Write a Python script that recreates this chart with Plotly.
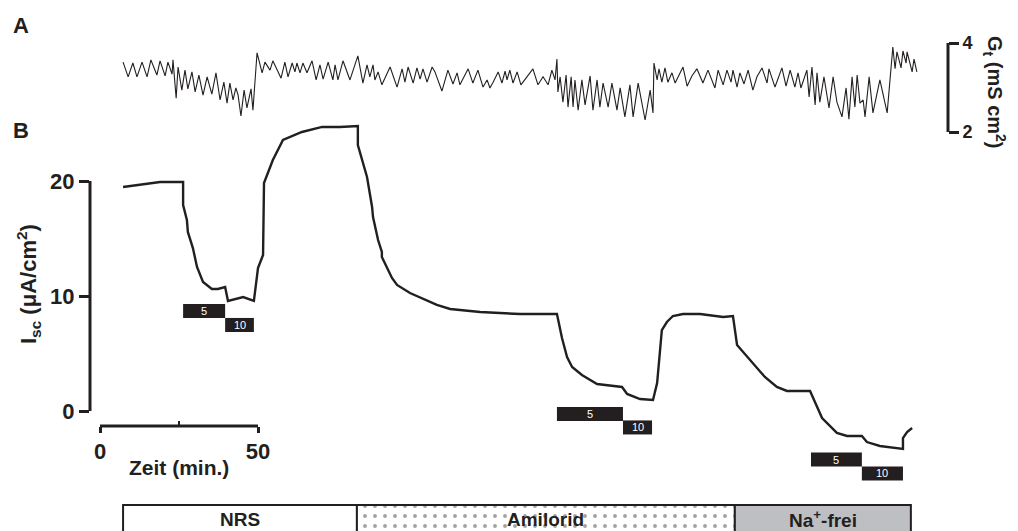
import plotly.graph_objects as go

# ---------------- data ----------------
# Panel A: transepithelial conductance Gt (mS cm^2) vs. time (min)
gt_time_1 = [7.3, 8.9, 10.4, 11.7, 13.3, 14.9, 16.1, 18.0, 19.0, 20.6, 21.5, 22.8, 23.1, 24.1, 24.7,
             25.9, 26.9, 27.8, 29.1, 30.1, 31.3, 32.6, 33.9, 35.4, 36.7, 38.0, 39.2, 40.2, 41.1, 42.1,
             43.0, 43.7, 44.6, 45.6, 46.5, 47.8, 48.4, 49.7]
gt_val_1 = [3.57, 3.24, 3.55, 3.24, 3.57, 3.24, 3.62, 3.28, 3.60, 3.26, 3.57, 3.30, 3.62, 2.76, 3.46,
            2.94, 3.39, 2.97, 3.35, 2.90, 3.28, 2.83, 3.24, 2.85, 3.33, 2.72, 3.12, 2.65, 3.10, 2.72,
            2.99, 2.83, 2.36, 2.94, 2.54, 2.97, 2.49, 3.78]
gt_time_2 = [51.3, 52.2, 53.8, 54.7, 57.3, 58.5, 59.5, 60.8, 61.7, 62.3, 63.3, 64.2, 65.5, 67.1, 68.4,
             69.6, 70.6, 72.2, 73.7, 74.4, 75.3, 76.9, 79.1, 81.6, 83.2, 84.5, 85.4, 86.4, 87.0, 88.0,
             89.2, 91.8, 94.0, 95.6, 96.5, 97.5, 99.1, 100.3, 101.3, 102.2, 103.5, 105.1, 106.0, 108.2,
             110.1, 111.7, 113.0, 113.9, 116.5, 118.0, 119.6, 121.2, 122.5, 123.4, 124.4, 126.0, 127.2,
             128.2, 128.8, 129.7, 130.7, 132.0, 133.2, 135.1, 137.0, 138.6, 140.2, 141.8, 143.0, 144.0,
             144.6]
gt_val_2 = [3.33, 3.57, 3.39, 3.60, 3.21, 3.57, 3.24, 3.55, 3.35, 3.55, 3.33, 3.55, 3.33, 3.60, 3.17,
            3.51, 3.19, 3.57, 3.17, 3.51, 3.17, 3.60, 3.17, 3.71, 3.10, 3.51, 3.24, 3.51, 3.17, 3.35,
            3.06, 3.46, 3.01, 3.42, 3.12, 3.46, 3.10, 3.44, 3.19, 3.42, 3.12, 3.46, 3.35, 2.92,
            3.39, 3.08, 3.33, 3.06, 3.42, 3.10, 3.39, 3.01, 3.17, 2.99, 3.12, 3.35, 3.10,
            3.37, 3.17, 3.39, 3.10, 3.35, 3.06, 3.24, 3.42, 3.06, 3.24, 3.06, 3.39, 3.17,
            3.64]
gt_time_3 = [144.9, 145.6, 146.5, 147.5, 148.1, 149.1, 149.7, 150.3, 151.3, 152.5, 153.5, 155.1, 156.0,
             157.3, 158.2, 159.2, 160.8, 162.0, 163.6, 164.6, 166.1, 167.7, 168.7, 170.3, 172.5, 174.1,
             175.0, 175.3]
gt_val_3 = [2.90, 3.24, 2.67, 3.28, 2.56, 3.24, 2.56, 3.17, 2.49, 3.17, 2.61, 3.26, 2.49,
            3.17, 2.56, 3.10, 2.56, 3.10, 2.49, 2.99, 2.34, 3.06, 2.34, 3.10, 2.27, 2.94,
            2.43, 3.55]
gt_time_4 = [176.3, 176.9, 177.8, 178.8, 179.7, 181.0, 182.0, 182.9, 184.5, 185.8, 187.3, 188.9, 190.8,
             192.4, 194.6, 195.6, 197.2, 198.4, 199.7, 200.3, 201.6, 202.5, 203.8, 205.1, 206.6, 207.9,
             209.5, 211.1, 211.7, 213.6, 215.8, 217.1, 218.4, 219.9, 220.9, 221.8, 223.7, 224.4, 225.3,
             226.3, 226.9, 227.8, 229.1, 230.7, 232.0, 233.2, 234.8, 236.1, 237.0, 238.0, 238.9, 239.6,
             240.5, 241.5, 242.1, 243.4, 244.6, 246.8, 249.1, 250.9, 251.6, 252.2, 253.5, 254.1, 255.1,
             255.4, 257.0, 257.6, 258.5]
gt_val_4 = [3.17, 3.42, 3.12, 3.44, 3.12, 3.33, 3.10, 3.24, 3.46, 3.03, 3.26, 3.42, 3.10,
            3.39, 2.99, 3.39, 3.06, 3.39, 3.12, 3.39, 3.01, 3.33, 3.08, 3.39, 2.94, 3.24,
            3.44, 3.10, 3.42, 3.01, 3.44, 3.03, 3.39, 3.01, 3.33, 2.99, 3.39, 2.79, 3.46,
            2.61, 3.33, 2.67, 3.24, 2.54, 3.24, 2.67, 2.34, 2.99, 2.29, 3.24, 2.56, 3.28,
            2.65, 2.72, 2.34, 3.24, 2.43, 3.17, 2.43, 3.91, 3.42, 3.80, 3.44, 3.82, 3.55,
            3.80, 3.35, 3.64, 3.35]

# Panel B: short-circuit current Isc (uA/cm^2) vs. time (min)
isc_time = [7.3, 19.0, 26.3, 26.3, 27.5, 27.8, 29.4, 30.7, 32.6, 35.4, 37.3, 39.6, 40.5, 45.3, 48.7,
            50.0, 51.6, 51.9, 54.7, 57.9, 63.9, 70.3, 75.9, 81.6, 81.6, 84.5, 86.1, 86.4, 88.0, 89.2,
            89.2, 92.4, 94.0, 98.1, 106.6, 110.8, 120.3, 132.9, 144.6, 146.2, 147.8, 149.4, 152.5,
            157.3, 165.2, 166.8, 170.9, 175.0, 176.3, 177.8, 179.4, 181.3, 184.5, 189.9, 197.2, 200.3,
            201.6, 205.7, 210.4, 214.2, 217.4, 224.7, 228.5, 233.2, 236.4, 241.1, 242.7, 246.8, 254.1,
            254.1, 255.4, 257.0]
isc_val = [19.48, 19.91, 19.91, 17.91, 16.61, 15.57, 14.17, 12.52, 11.22, 10.61, 10.61, 10.78, 9.57,
           9.91, 9.57, 12.43, 13.57, 19.83, 21.83, 23.57, 24.26, 24.70, 24.70, 24.78, 23.13, 20.35,
           17.74, 16.87, 14.87, 13.83, 13.39, 11.57, 10.96, 10.26, 9.22, 8.87, 8.61, 8.43, 8.43, 6.35,
           4.70, 3.83, 3.13, 2.35, 2.09, 1.48, 1.04, 0.96, 2.43, 7.04, 7.74, 8.26, 8.43, 8.43, 8.17,
           8.26, 5.74, 4.43, 2.96, 2.09, 1.74, 1.74, -0.61, -1.91, -2.17, -2.17, -2.70, -3.04, -3.30,
           -2.35, -1.83, -1.48]

# Stimulus markers (black boxes)
stim_labels = ["5", "10", "5", "10", "5", "10"]
stim_start = [26.3, 39.6, 144.6, 165.5, 225.0, 241.1]
stim_end = [39.6, 48.7, 165.5, 174.7, 241.1, 254.1]
stim_level = [8.70, 7.48, -0.26, -1.43, -4.22, -5.43]

# Solution periods (bottom bar)
sol_labels = ["NRS", "Amilorid", "Na<sup>+</sup>-frei"]
sol_start = [7.3, 81.3, 200.9]
sol_end = [81.3, 200.9, 256.6]

# Axis ticks
time_ticks = [0, 50]
time_minor = [25]
isc_ticks = [0, 10, 20]
gt_ticks = [2, 4]

# ---------------- layout geometry ----------------
W, H = 1018, 531
FONT = "Liberation Sans, Arial, sans-serif"
INK = "#231f20"


def px(x):
    return x / W


def py(y):
    return 1 - y / H


T_PX0, T_SCALE = 100, 3.16        # px of t=0, px per minute
I_PX0, I_SCALE = 411, 11.5        # px of Isc=0, px per unit
G_PX4, G_SCALE = 43, 44.5         # px of Gt=4, px per unit

x_range = [(90 - T_PX0) / T_SCALE, (W - T_PX0) / T_SCALE]
y_range = [(I_PX0 - H) / I_SCALE, I_PX0 / I_SCALE]
y2_range = [4 - (H - G_PX4) / G_SCALE, 4 + G_PX4 / G_SCALE]

fig = go.Figure()

gt_time = gt_time_1 + gt_time_2 + gt_time_3 + gt_time_4
gt_val = gt_val_1 + gt_val_2 + gt_val_3 + gt_val_4

fig.add_trace(go.Scatter(x=gt_time, y=gt_val, mode="lines", xaxis="x", yaxis="y2",
                         line=dict(color=INK, width=1.1), hoverinfo="skip", showlegend=False))
fig.add_trace(go.Scatter(x=isc_time, y=isc_val, mode="lines", xaxis="x", yaxis="y",
                         line=dict(color=INK, width=2.4), hoverinfo="skip", showlegend=False))

fig.add_trace(go.Bar(orientation="h", y=stim_level,
                     x=[e - s for s, e in zip(stim_start, stim_end)], base=stim_start,
                     width=1.22, marker=dict(color=INK, line=dict(width=0)),
                     xaxis="x", yaxis="y", hoverinfo="skip", showlegend=False))

fig.add_trace(go.Bar(orientation="h", y=[0, 0, 0],
                     x=[e - s for s, e in zip(sol_start, sol_end)], base=sol_start,
                     width=52,
                     marker=dict(color=["white", "white", "#bebfc3"],
                                 line=dict(color=INK, width=2),
                                 pattern=dict(shape=["", ".", ""], fgcolor=INK, bgcolor="white",
                                              size=10, solidity=0.12)),
                     xaxis="x", yaxis="y3", hoverinfo="skip", showlegend=False))

tickfont = dict(family=FONT, size=22, color=INK, weight="bold")

fig.update_layout(
    width=W, height=H, margin=dict(l=0, r=0, t=0, b=0, autoexpand=False),
    paper_bgcolor="white", plot_bgcolor="white",
    barmode="overlay", showlegend=False,
    xaxis=dict(domain=[px(90), 1], range=x_range, anchor="free", position=py(426),
               automargin=False, showgrid=False, zeroline=False, showline=False,
               tickvals=time_ticks, ticks="outside", ticklen=6, tickwidth=3, tickcolor=INK,
               tickfont=tickfont,
               minor=dict(tickvals=time_minor, ticks="inside", ticklen=5, tickwidth=2,
                          tickcolor=INK, showgrid=False)),
    yaxis=dict(domain=[0, 1], range=y_range, anchor="x", automargin=False,
               showgrid=False, zeroline=False, showline=False,
               tickvals=isc_ticks, ticks="outside", ticklen=10, tickwidth=3, tickcolor=INK,
               tickfont=tickfont),
    yaxis2=dict(range=y2_range, overlaying="y", anchor="free", position=px(948), side="right",
                automargin=False, showgrid=False, zeroline=False, showline=False,
                tickvals=gt_ticks, ticks="outside", ticklen=10, tickwidth=3, tickcolor=INK,
                tickfont=dict(family=FONT, size=18, color=INK, weight="bold")),
    yaxis3=dict(domain=[0, 30 / H], range=[0, 30], anchor="x", visible=False, automargin=False),
)

# axis lines limited to the scale range
fig.add_shape(type="line", xref="paper", yref="y", x0=px(90), x1=px(90),
              y0=isc_ticks[0], y1=isc_ticks[-1], line=dict(color=INK, width=3))
fig.add_shape(type="line", xref="x", yref="paper", x0=time_ticks[0], x1=time_ticks[-1],
              y0=py(426), y1=py(426), line=dict(color=INK, width=3))
fig.add_shape(type="line", xref="paper", yref="y2", x0=px(948), x1=px(948),
              y0=gt_ticks[0], y1=gt_ticks[-1], line=dict(color=INK, width=3))


def bold(s, color=INK):
    return dict(family=FONT, size=s, color=color, weight="bold")


def note(text, x, y, xref="paper", yref="paper", **kw):
    fig.add_annotation(text=text, x=x, y=y, xref=xref, yref=yref, showarrow=False,
                       xanchor="center", yanchor="middle", **kw)


note("A", px(21), py(25), font=bold(22))
note("B", px(21), py(130), font=bold(22))
note("I<sub>sc</sub> (μA/cm<sup>2</sup>)", px(28), py(284), textangle=-90, font=bold(22))
note("G<sub>t</sub> (mS cm<sup>2</sup>)", px(995), py(92), textangle=90, font=bold(20))
note("Zeit (min.)", sum(time_ticks) / 2, py(467), xref="x", font=bold(21))

for lab, s, e, lv in zip(stim_labels, stim_start, stim_end, stim_level):
    note(lab, (s + e) / 2, lv, xref="x", yref="y",
         font=dict(family=FONT, size=11, color="white"))

for lab, s, e in zip(sol_labels, sol_start, sol_end):
    note(lab, (s + e) / 2, py(519), xref="x", font=bold(19))

# remove the default 8px page margin so the figure fills the window exactly
fig.write_html("out.html", config={"displayModeBar": False},
               post_script="document.body.style.margin='0';")
